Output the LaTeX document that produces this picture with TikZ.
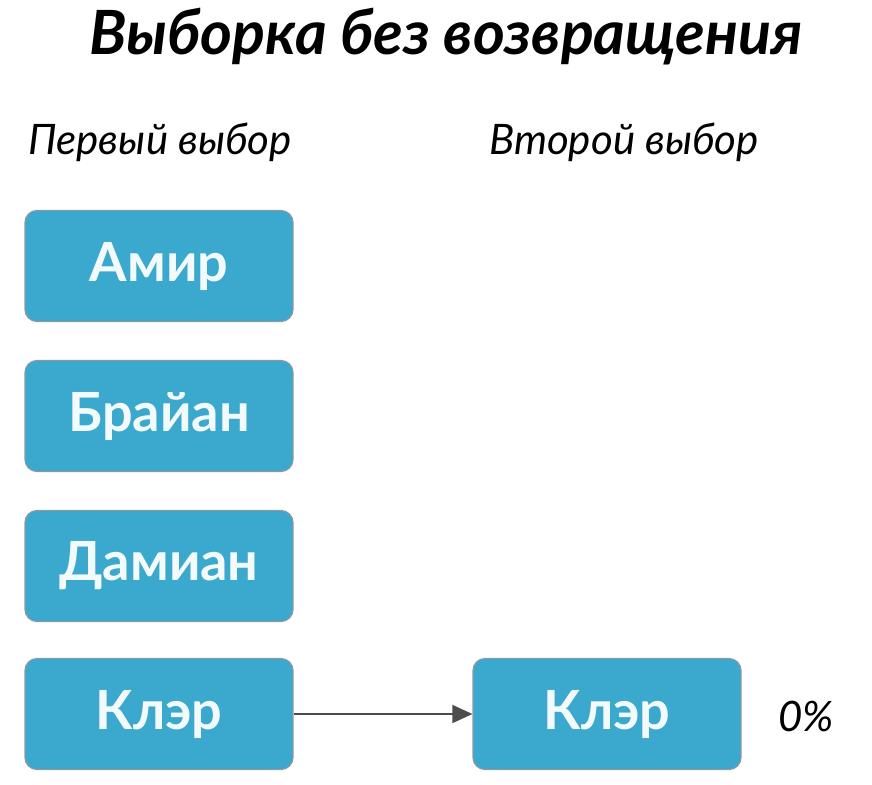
\documentclass[tikz,border=0pt]{standalone}
\usepackage{fontspec}
\setmainfont{Lato}
\usetikzlibrary{arrows.meta}
\definecolor{boxblue}{HTML}{3BA8CD}
\definecolor{boxline}{HTML}{8A9AA2}
\tikzset{
  pick/.style={draw=boxline, line width=1.2pt, fill=boxblue, rounded corners=12pt,
    minimum width=268pt, minimum height=111pt, inner sep=0pt, text=white!94!boxblue,
    font=\bfseries\fontsize{54}{60}\selectfont},
  head/.style={font=\itshape\fontsize{42}{48}\selectfont},
}
\begin{document}
\begin{tikzpicture}[x=1pt,y=-1pt]
  \useasboundingbox (0,0) rectangle (872,784);
  \node (title) at (446,37) {\bfseries\itshape\fontsize{61}{68}\selectfont Выборка без возвращения};
  \node [head] (first) at (160,142) {Первый выбор};
  \node [head] (second) at (624,142) {Второй выбор};
  \node [pick] (amir) at (159,266) {Амир};
  \node [pick] (brian) at (159,416) {Брайан};
  \node [pick] (damian) at (159,566) {Дамиан};
  \node [pick] (claire) at (159,714) {Клэр};
  \node [pick] (claire2) at (607,714) {Клэр};
  \node [head] (pct) at (806,716) {0\%};
  \draw [-{Triangle[length=20pt,width=18pt]}, line width=1.6pt, draw=black!70, fill=black!70] (claire) -- (claire2);
\end{tikzpicture}
\end{document}
